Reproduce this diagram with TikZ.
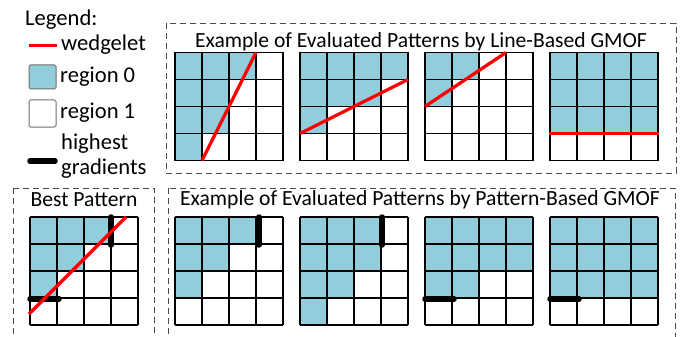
\documentclass[tikz,border=0pt]{standalone}
\usepackage{fontspec}
\setmainfont{Carlito}
\definecolor{blau}{HTML}{92CDDC}
\definecolor{keil}{HTML}{FF0000}
\definecolor{rahmen}{HTML}{4A4A4A}
\definecolor{hgrau}{HTML}{6F6F6F}
\tikzset{
  zelle/.style={fill=blau},
  gitter/.style={black,line width=1.1pt},
  keillinie/.style={keil,line width=3.2pt},
  gradient/.style={black,line width=5.5pt,line cap=round},
  gruppe/.style={rahmen,dash pattern=on 6pt off 4pt,line width=0.9pt},
  legbox/.style={hgrau,line width=1pt,rounded corners=1.5pt},
  titel/.style={font=\fontsize{21.6}{23}\selectfont,inner sep=0pt},
  legtext/.style={font=\fontsize{22.6}{25.5}\selectfont,inner sep=0pt,anchor=west},
}
% 4x4 Raster, Zellen 27px, Liste der blauen Zellen als Spalte/Zeile
\newcommand{\raster}[1]{%
  \foreach \c/\r in {#1} \fill[zelle] (\c*27,\r*27) rectangle ++(27,27);
  \foreach \i in {0,...,4} {
    \draw[gitter] (\i*27,0) -- (\i*27,108);
    \draw[gitter] (0,\i*27) -- (108,\i*27);
  }}

\begin{document}
\begin{tikzpicture}[x=1pt,y=-1pt]
  \useasboundingbox (0,0) rectangle (686,337);
  % Legende
  \node[legtext] (leg) at (25,20) {Legend:};
  \draw[keil,line width=3pt] (29,46) -- (57,46);
  \node[legtext] (legkeil) at (61,45) {wedgelet};
  \draw[legbox,fill=blau] (29,65) rectangle (56,89);
  \node[legtext] (legr0) at (60,77) {region 0};
  \draw[legbox,fill=white] (29,100) rectangle (56,127);
  \node[legtext] (legr1) at (60,113) {region 1};
  \draw[gradient] (30,161) -- (55,161);
  \node[legtext,align=left] (leggrad) at (61,156) {highest\\gradients};
  % Rahmen
  \draw[gruppe] (166,23) rectangle (676,173);
  \draw[gruppe] (13,188) rectangle (154,345);
  \draw[gruppe] (168,188) rectangle (675,345);
  \node[titel] (titlinie) at (421,42) {Example of Evaluated Patterns by Line-Based GMOF};
  \node[titel] (titbest) at (84,200) {Best Pattern};
  \node[titel] (titmuster) at (420,200) {Example of Evaluated Patterns by Pattern-Based GMOF};
  % obere Reihe: linienbasiert
  \begin{scope}[shift={(175,52.5)}]
    \raster{0/0,1/0,2/0,0/1,1/1,0/2,1/2,0/3}
    \draw[keillinie] (27,108) -- (81,0);
  \end{scope}
  \begin{scope}[shift={(300,52.5)}]
    \raster{0/0,1/0,2/0,3/0,0/1,1/1,2/1,0/2}
    \draw[keillinie] (0,81) -- (108,27);
  \end{scope}
  \begin{scope}[shift={(425,52.5)}]
    \raster{0/0,1/0,0/1}
    \draw[keillinie] (0,54) -- (81,0);
  \end{scope}
  \begin{scope}[shift={(550,52.5)}]
    \raster{0/0,1/0,2/0,3/0,0/1,1/1,2/1,3/1,0/2,1/2,2/2,3/2}
    \draw[keillinie] (-1,81) -- (109,81);
  \end{scope}
  % bestes Muster
  \begin{scope}[shift={(30,217)}]
    \raster{0/0,1/0,2/0,0/1,1/1,0/2}
    \draw[gradient] (81,0) -- (81,28);
    \draw[gradient] (0,82) -- (29,82);
    \draw[keillinie] (-1,97) -- (96,0);
  \end{scope}
  % untere Reihe: musterbasiert
  \begin{scope}[shift={(175,217)}]
    \raster{0/0,1/0,2/0,0/1,1/1,0/2}
    \draw[gradient] (84,0) -- (84,28);
  \end{scope}
  \begin{scope}[shift={(300,217)}]
    \raster{0/0,1/0,2/0,0/1,1/1,2/1,0/2,1/2,0/3}
    \draw[gradient] (82,0) -- (82,28);
  \end{scope}
  \begin{scope}[shift={(425,217)}]
    \raster{0/0,1/0,2/0,3/0,0/1,1/1,2/1,3/1,0/2,1/2}
    \draw[gradient] (0,82) -- (29,82);
  \end{scope}
  \begin{scope}[shift={(550,217)}]
    \raster{0/0,1/0,2/0,3/0,0/1,1/1,2/1,3/1,0/2,1/2,2/2,3/2}
    \draw[gradient] (0,82) -- (29,82);
  \end{scope}
\end{tikzpicture}
\end{document}
